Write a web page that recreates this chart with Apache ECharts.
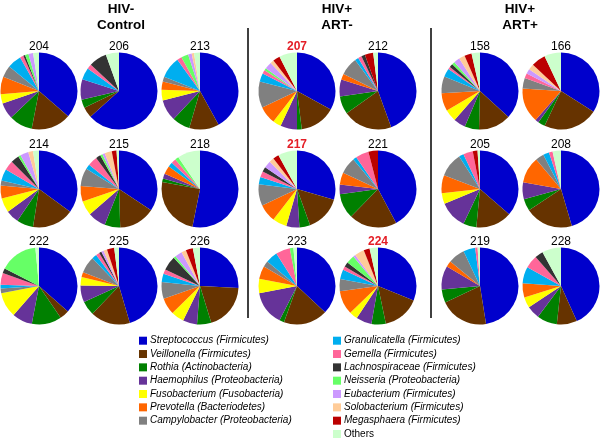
<!DOCTYPE html>
<html>
<head>
<meta charset="utf-8">
<script src="https://cdn.jsdelivr.net/npm/echarts@6/dist/echarts.min.js"></script>
<style>
html,body{margin:0;padding:0;background:#fff;}
#chart{width:600px;height:439px;}
</style>
</head>
<body>
<div id="chart"></div>
<script>
// ---- data ----
const categories = [
  'Streptococcus (Firmicutes)', 'Veillonella (Firmicutes)', 'Rothia (Actinobacteria)',
  'Haemophilus (Proteobacteria)', 'Fusobacterium (Fusobacteria)', 'Prevotella (Bacteriodetes)',
  'Campylobacter (Proteobacteria)', 'Granulicatella (Firmicutes)', 'Gemella (Firmicutes)',
  'Lachnospiraceae (Firmicutes)', 'Neisseria (Proteobacteria)', 'Eubacterium (Firmicutes)',
  'Solobacterium (Firmicutes)', 'Megasphaera (Firmicutes)', 'Others'
];
const groupTitles = [['HIV-', 'Control'], ['HIV+', 'ART-'], ['HIV+', 'ART+']];
const samples = ['204','206','213','214','215','218','222','225','226',
                 '207','212','217','221','223','224',
                 '158','166','205','208','219','228'];
const highlighted = ['207','217','224'];

// relative abundances (%) in category order
const s204 = [37, 17, 10, 7, 4, 7.5, 5, 6, 1.5, 0.8, 1.5, 2, 0, 0, 2.5];
const s206 = [63, 4.5, 3.5, 8.5, 0, 0, 0, 5, 2, 7.5, 0, 0, 0, 0, 5.5];
const s213 = [42, 12.5, 7.5, 9, 4.5, 3.5, 2, 9, 2, 0, 3, 1.5, 1, 0, 2.5];
const s214 = [35, 17.5, 7, 5.5, 6, 5.5, 2, 5, 4, 3.5, 1, 3.5, 2, 0, 2.5];
const s215 = [34, 15, 6.5, 7.5, 6, 6.5, 7.5, 2, 4, 2, 1, 1, 3, 2, 1];
const s218 = [53, 24.7, 1.5, 2, 0, 3.5, 0, 2, 2, 0, 1.5, 0, 0, 0, 9.5];
const s222 = [36.5, 4, 12.5, 8.5, 10.5, 0, 2, 1.5, 5, 2, 16, 0, 0, 0, 1.5];
const s225 = [45, 16.5, 6, 7, 3.5, 2, 7, 2, 1.5, 1, 0, 1, 1.5, 3, 2];
const s226 = [26, 19.5, 6, 6, 5.5, 7, 7, 3.5, 2, 6, 1, 3, 2, 3, 3];
const s207 = [33, 15, 2, 7, 3.5, 7.5, 11, 3.5, 1.5, 0, 1, 3, 1.5, 3, 7.5];
const s212 = [44, 20.5, 7.5, 7, 0, 2.5, 7.5, 1.5, 1.5, 1.5, 0, 0, 0, 3.5, 2];
const s217 = [29.5, 15, 4.5, 5.5, 6, 7.5, 9, 3, 2.5, 2, 0, 3, 2, 2.5, 8];
const s221 = [42, 20, 10.5, 4, 0, 5, 7, 1.5, 5.5, 0, 0, 0, 0, 4, 0];
const s223 = [37, 18.5, 2, 14.5, 6, 5.5, 2.5, 5, 6, 0, 1.5, 0, 0, 0, 1.5];
const s224 = [31, 15.5, 6, 6.5, 3.5, 10, 5, 4, 1.5, 2, 3.5, 1, 4, 2.5, 3.5];
const s158 = [36.5, 13.5, 6, 5, 5, 7.5, 7, 3.5, 1, 1.5, 1.2, 2.5, 2.5, 3, 3.5];
const s166 = [34, 23, 3, 1.5, 0, 14.5, 4.5, 0, 2, 0, 0, 2, 2.5, 6, 7];
const s205 = [36, 15, 5.5, 11.5, 4.5, 7.5, 10, 2, 4, 0, 0, 0, 0, 2, 1];
const s208 = [45, 20, 5, 7, 0, 11, 3.5, 2.5, 1.5, 0, 0, 0, 0, 0, 3.5];
const s219 = [47.5, 20.5, 5.5, 10, 0, 2.5, 7, 5, 1, 0, 0, 0, 0, 0, 1];
const s228 = [43.5, 8.5, 8.5, 5.5, 4.5, 6, 0, 7, 5.5, 3.5, 0, 0, 0, 0, 8];

const sampleValues = {
  '204': s204, '206': s206, '213': s213, '214': s214, '215': s215, '218': s218,
  '222': s222, '225': s225, '226': s226, '207': s207, '212': s212, '217': s217,
  '221': s221, '223': s223, '224': s224, '158': s158, '166': s166, '205': s205,
  '208': s208, '219': s219, '228': s228
};

// ---- layout / style ----
const colors = ['#0000CC', '#663300', '#008000', '#663399', '#FFFF00', '#FF6600',
  '#808080', '#00AEEF', '#FF6699', '#333333', '#66FF66', '#CC99FF', '#FFCC99',
  '#BB0000', '#CCFFCC'];
const layout = {
  '204': [39, 91], '206': [119, 91], '213': [200, 91],
  '214': [39, 189], '215': [119, 189], '218': [200, 189],
  '222': [39, 286], '225': [119, 286], '226': [200, 286],
  '207': [297, 91], '212': [378, 91],
  '217': [297, 189], '221': [378, 189],
  '223': [297, 286], '224': [378, 286],
  '158': [480, 91], '166': [561, 91],
  '205': [480, 189], '208': [561, 189],
  '219': [480, 286], '228': [561, 286]
};
const R = 38.5;
const titleX = [121, 337, 520];
const FONT = '"Liberation Sans", Arial, Helvetica, sans-serif';

const series = samples.map(id => ({
  type: 'pie',
  name: id,
  center: layout[id],
  radius: R,
  startAngle: 90,
  clockwise: true,
  silent: true,
  animation: false,
  label: { show: false },
  labelLine: { show: false },
  itemStyle: { borderWidth: 0 },
  emphasis: { disabled: true },
  data: categories.map((c, i) => ({ name: c, value: sampleValues[id][i] }))
}));

const graphics = [];
samples.forEach(id => {
  const [cx, cy] = layout[id];
  const hi = highlighted.includes(id);
  graphics.push({
    type: 'text', x: cx, y: cy - R - 6,
    style: {
      text: id, align: 'center', verticalAlign: 'middle',
      font: (hi ? 'bold ' : '') + '12px ' + FONT,
      fill: hi ? '#E41E26' : '#000'
    }
  });
});
groupTitles.forEach((t, i) => {
  graphics.push({
    type: 'text', x: titleX[i], y: 9,
    style: { text: t[0], align: 'center', verticalAlign: 'middle',
      font: 'bold 13.5px ' + FONT, fill: '#000' }
  });
  graphics.push({
    type: 'text', x: titleX[i], y: 25,
    style: { text: t[1], align: 'center', verticalAlign: 'middle',
      font: 'bold 13.5px ' + FONT, fill: '#000' }
  });
});
[248, 431].forEach(x => {
  graphics.push({
    type: 'line', shape: { x1: x, y1: 28, x2: x, y2: 318 },
    style: { stroke: '#000', lineWidth: 1.5 }
  });
});

const legendBase = {
  orient: 'vertical',
  icon: 'rect',
  itemWidth: 8,
  itemHeight: 8,
  itemGap: 1.33,
  selectedMode: false,
  padding: 0,
  height: 130,
  textStyle: { fontFamily: FONT, fontSize: 10,
    fontStyle: 'italic', color: '#000', lineHeight: 12, padding: [0, 0, 0, -2] }
};

const chart = echarts.init(document.getElementById('chart'), null, { renderer: 'canvas' });
chart.setOption({
  animation: false,
  color: colors,
  legend: [
    Object.assign({}, legendBase, { left: 139, top: 334.7, data: categories.slice(0, 7) }),
    Object.assign({}, legendBase, { left: 333, top: 334.7,
      data: categories.slice(7, 14).concat([{ name: 'Others', textStyle: { fontStyle: 'normal' } }]) })
  ],
  series: series,
  graphic: graphics
});
</script>
</body>
</html>
